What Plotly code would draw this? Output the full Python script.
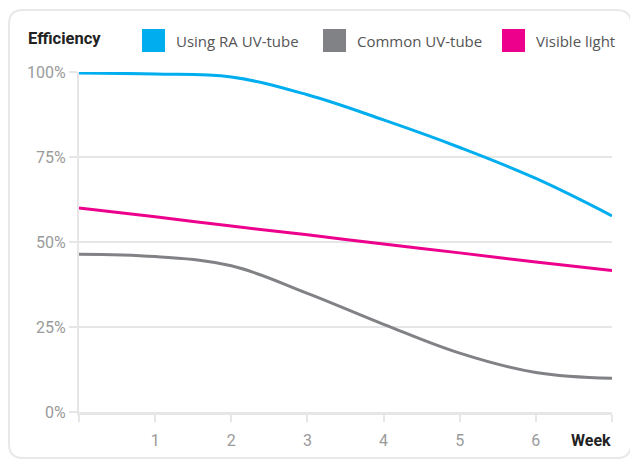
import plotly.graph_objects as go

# weeks on the x axis, efficiency in percent
weeks = [0, 1, 2, 3, 4, 5, 6, 7]
ra_uv_tube = [99.7, 99.4, 98.5, 93.3, 85.9, 77.8, 68.7, 57.7]
common_uv_tube = [46.4, 45.7, 43.0, 34.9, 25.8, 17.3, 11.6, 9.9]
visible_light = [60.0, 57.4, 54.7, 52.1, 49.4, 46.8, 44.1, 41.6]

series_names = ['Using RA UV-tube', 'Common UV-tube', 'Visible light']
series_colors = ['#00aeef', '#808285', '#ec008c']

y_ticks = [0, 25, 50, 75, 100]
y_labels = ['0%', '25%', '50%', '75%', '100%']
x_labels = ['', '1', '2', '3', '4', '5', '6', '']

W, H = 630, 461
L, R, T, B = 79, 18, 72, 49
pw, ph = W - L - R, H - T - B


def px(x):
	return (x - L) / pw


def py(y):
	return (H - B - y) / ph


fig = go.Figure()

for name, vals, col in zip(series_names, [ra_uv_tube, common_uv_tube, visible_light], series_colors):
	fig.add_trace(go.Scatter(
		x=weeks, y=vals, name=name, mode='lines',
		line=dict(color=col, width=3, shape='spline', smoothing=1.1),
		showlegend=False, cliponaxis=False, hoverinfo='skip',
	))

grid = '#e6e6e6'
tick_font = dict(family='Roboto, sans-serif', size=16, color='#9a9a9a')

fig.update_xaxes(
	range=[0, 7], tickvals=weeks, ticktext=x_labels,
	showgrid=False, zeroline=False,
	showline=True, linecolor=grid, linewidth=3,
	ticks='outside', ticklen=7, tickwidth=2, tickcolor=grid,
	tickfont=tick_font, ticklabelstandoff=5,
)
fig.update_yaxes(
	range=[0, 100], tickvals=y_ticks, ticktext=y_labels,
	showgrid=True, gridcolor=grid, gridwidth=2, zeroline=False,
	showline=True, linecolor=grid, linewidth=2,
	ticks='outside', ticklen=8, tickwidth=2, tickcolor=grid,
	tickfont=tick_font,
)

shapes = []
annotations = []

# rounded outer frame (right edge falls just off the page)
x0, x1 = px(9), px(631)
y0, y1 = py(10), py(458)
rx, ry = 14 / pw, 14 / ph
path = (f'M {x0 + rx},{y0} L {x1 - rx},{y0} Q {x1},{y0} {x1},{y0 - ry} '
		f'L {x1},{y1 + ry} Q {x1},{y1} {x1 - rx},{y1} '
		f'L {x0 + rx},{y1} Q {x0},{y1} {x0},{y1 + ry} '
		f'L {x0},{y0 - ry} Q {x0},{y0} {x0 + rx},{y0} Z')
shapes.append(dict(type='path', xref='paper', yref='paper', path=path,
				   line=dict(color='#e8e8e8', width=2), layer='below'))

# legend boxes
legend_x = [142, 323, 502]
for lx, name, col in zip(legend_x, series_names, series_colors):
	shapes.append(dict(type='rect', xref='paper', yref='paper',
					   x0=px(lx), x1=px(lx + 23), y0=py(52), y1=py(29),
					   fillcolor=col, line=dict(width=0)))
	annotations.append(dict(xref='paper', yref='paper', x=px(lx + 32), y=py(41),
							text=name, showarrow=False, xanchor='left', yanchor='middle',
							font=dict(family='Open Sans, sans-serif', size=15, color='#555555')))

annotations.append(dict(xref='paper', yref='paper', x=px(26), y=py(39),
						text='<b>Efficiency</b>', showarrow=False, xanchor='left', yanchor='middle',
						font=dict(family='Roboto, sans-serif', size=16.5, color='#222222')))
annotations.append(dict(xref='x', yref='paper', x=7, y=py(440),
						text='<b>Week</b>', showarrow=False, xanchor='right', yanchor='middle', xshift=1,
						font=dict(family='Roboto, sans-serif', size=16, color='#222222')))

fig.update_layout(
	width=W, height=H,
	margin=dict(l=L, r=R, t=T, b=B),
	paper_bgcolor='white', plot_bgcolor='white',
	shapes=shapes, annotations=annotations,
	showlegend=False,
)

# drop the default page margin so the figure sits at the window corner
fig.write_html("out.html", config={'displayModeBar': False},
			   post_script="document.body.style.margin='0';")
